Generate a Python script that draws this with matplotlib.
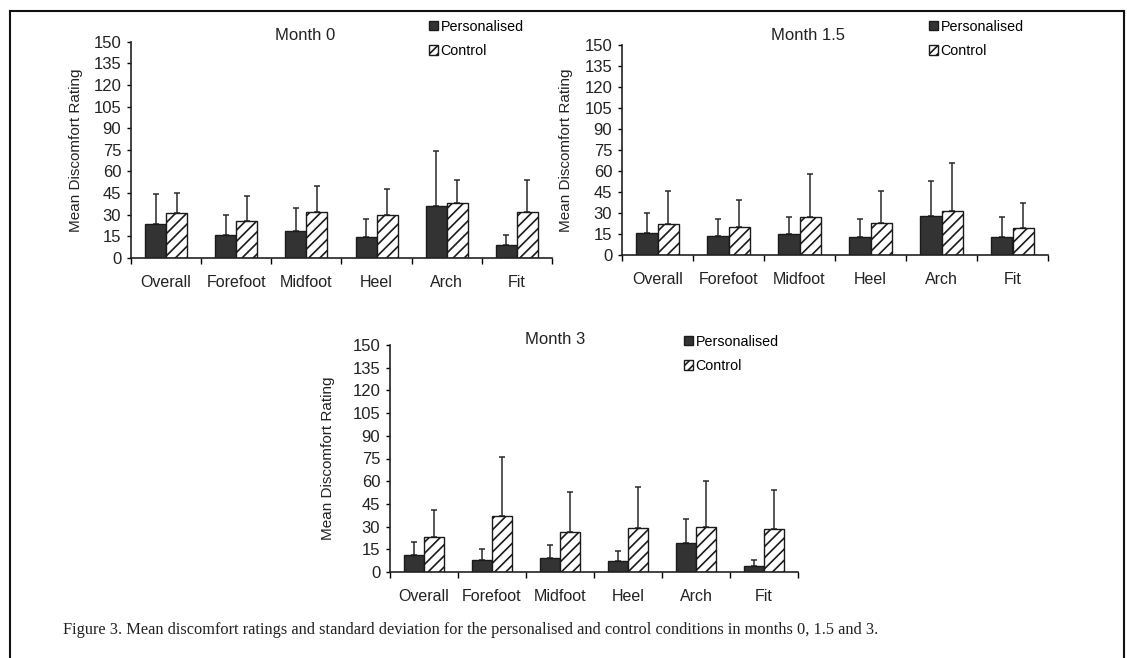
import numpy as np
import matplotlib
matplotlib.use("Agg")
import matplotlib.pyplot as plt
from matplotlib.patches import Patch
from matplotlib.lines import Line2D

plt.rcParams["font.family"] = ["Liberation Sans", "DejaVu Sans"]
plt.rcParams["hatch.linewidth"] = 1.2

# data
categories = ["Overall", "Forefoot", "Midfoot", "Heel", "Arch", "Fit"]

m0_pers = [23.5, 16, 18.5, 14.5, 36, 8.8]
m0_pers_sd = [21, 14, 16.5, 12.5, 38, 7.2]
m0_ctrl = [31, 25.4, 31.6, 30, 37.8, 31.8]
m0_ctrl_sd = [14, 17.6, 18, 18, 16.2, 22.2]

m15_pers = [15.5, 13.6, 14.8, 13, 28, 12.6]
m15_pers_sd = [14.5, 12.4, 12.2, 13, 25, 14.4]
m15_ctrl = [22, 20, 27.4, 23, 31.4, 19]
m15_ctrl_sd = [24, 19, 30.2, 23, 34.6, 18]

m3_pers = [11.5, 7.7, 9.3, 7, 19.2, 3.75]
m3_pers_sd = [8.4, 7.7, 8.3, 6.7, 16.1, 4.45]
m3_ctrl = [23, 37, 26.5, 29.3, 29.8, 28.2]
m3_ctrl_sd = [18, 38.7, 26.2, 26.7, 30.4, 26.3]

W, H = 1127, 658
fig = plt.figure(figsize=(W / 100, H / 100), dpi=100)


def px_axes(x0, x1, ytop, ybot):
    return fig.add_axes([x0 / W, 1 - ybot / H, (x1 - x0) / W, (ybot - ytop) / H])


def panel(ax, pers, pers_sd, ctrl, ctrl_sd, title, title_xy, leg_xy, ylab_x):
    x = np.arange(len(categories))
    bw = 0.3
    ax.bar(x - bw / 2, pers, bw, color="#333333", edgecolor="#1a1a1a", linewidth=1.0, zorder=2)
    ax.bar(x + bw / 2, ctrl, bw, color="white", edgecolor="#1a1a1a", linewidth=1.0,
           hatch="///", zorder=2)
    zeros = np.zeros(len(x))
    ax.errorbar(x - bw / 2, pers, yerr=[zeros, pers_sd], fmt="none", ecolor="#2a2a2a",
                elinewidth=1.1, capsize=2.5, capthick=1.1, zorder=1)
    ax.errorbar(x + bw / 2, ctrl, yerr=[zeros, ctrl_sd], fmt="none", ecolor="#2a2a2a",
                elinewidth=1.1, capsize=2.5, capthick=1.1, zorder=1)

    ax.set_xlim(-0.5, len(x) - 0.5)
    ax.set_ylim(0, 150)
    ax.set_yticks(np.arange(0, 151, 15))
    ax.set_xticks(x)
    ax.set_xticklabels(categories, fontsize=11.5, color="#222222")
    ax.set_xticks(np.arange(-0.5, len(x), 1), minor=True)
    ax.tick_params(axis="x", which="major", length=0, pad=12)
    ax.tick_params(axis="x", which="minor", length=4, direction="out", width=1)
    ax.tick_params(axis="y", length=3, width=1, labelsize=12, pad=4, labelcolor="#222222")
    for s in ["top", "right"]:
        ax.spines[s].set_visible(False)
    for s in ["left", "bottom"]:
        ax.spines[s].set_linewidth(1.2)
        ax.spines[s].set_color("#222222")
    ax.set_ylabel("Mean Discomfort Rating", fontsize=11, color="#222222")
    ax.yaxis.set_label_coords(ylab_x, 0.5)

    fig.text(title_xy[0] / W, 1 - title_xy[1] / H, title, fontsize=12,
             ha="center", va="center", color="#222222")
    handles = [Patch(facecolor="#333333", edgecolor="#1a1a1a", label="Personalised"),
               Patch(facecolor="white", edgecolor="#1a1a1a", hatch="////", label="Control")]
    fig.legend(handles=handles, loc="upper left",
               bbox_to_anchor=(leg_xy[0] / W, 1 - leg_xy[1] / H),
               frameon=False, fontsize=10.3, handlelength=0.6, handleheight=0.6,
               handletextpad=0.2, labelspacing=0.7, borderaxespad=0, borderpad=0)


ax1 = px_axes(131, 552, 41.7, 258)
panel(ax1, m0_pers, m0_pers_sd, m0_ctrl, m0_ctrl_sd, "Month 0", (305, 35), (429, 20), -0.114)

ax2 = px_axes(622, 1048, 45, 255)
panel(ax2, m15_pers, m15_pers_sd, m15_ctrl, m15_ctrl_sd, "Month 1.5", (808, 35), (929, 20), -0.115)

ax3 = px_axes(390, 798, 345, 572)
panel(ax3, m3_pers, m3_pers_sd, m3_ctrl, m3_ctrl_sd, "Month 3", (555, 340), (684, 335), -0.135)

fig.text(63 / W, 1 - 630 / H,
         "Figure 3. Mean discomfort ratings and standard deviation for the personalised "
         "and control conditions in months 0, 1.5 and 3.",
         fontsize=11.8, family=["Liberation Serif", "DejaVu Serif"], ha="left", va="center",
         color="#222222")

# page frame around the figure
for xs, ys in [((10, 10), (11, H)), ((10, 1124), (11, 11)), ((1124, 1124), (11, H))]:
    fig.add_artist(Line2D([x / W for x in xs], [1 - y / H for y in ys], color="#111111",
                          linewidth=1.5))

fig.savefig("out.png", dpi=100)
